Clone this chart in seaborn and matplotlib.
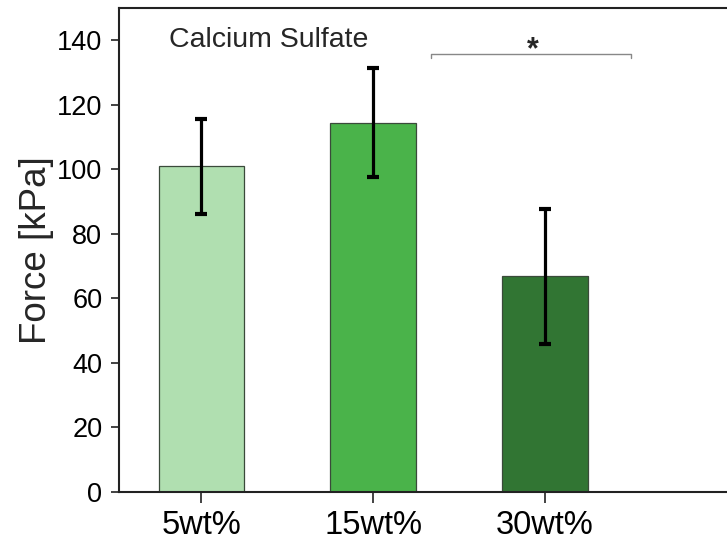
import numpy as np
import pandas as pd
import seaborn as sns
import matplotlib.pyplot as plt

# data
groups = ["5wt%", "15wt%", "30wt%"]
force = [100.9, 114.5, 66.8]
force_err = [14.8, 16.9, 21.0]
bar_colors = ["#b0dfb0", "#4ab34a", "#317533"]

sns.set_style("ticks")
plt.rcParams['font.family'] = ['Liberation Sans', 'DejaVu Sans']

fig = plt.figure(figsize=(7.27, 5.44), dpi=100)
ax = fig.add_axes([119 / 727, (544 - 492) / 544, 1.0 - 119 / 727, (492 - 8) / 544])

df = pd.DataFrame({"group": groups, "force": force})
sns.barplot(data=df, x="group", y="force", hue="group", palette=bar_colors,
            saturation=1, width=0.5, edgecolor="#3a4a3a", linewidth=0.9,
            legend=False, ax=ax)
ax.errorbar(np.arange(len(groups)), force, yerr=force_err, fmt="none",
            ecolor="black", elinewidth=2.3, capsize=4.3, capthick=3, zorder=5)

ax.set_xlim(-0.48, 3.06)
ax.set_ylim(0, 150)
ax.set_yticks(np.arange(0, 141, 20))
ax.tick_params(axis="y", labelsize=19.5, length=6, width=1.2, pad=6, colors="#222222")
ax.tick_params(axis="x", labelsize=23.5, length=8, width=1.2, pad=5, colors="#222222")
for lab in ax.get_xticklabels() + ax.get_yticklabels():
    lab.set_color("black")
ax.set_xlabel("")
ax.set_ylabel("Force [kPa]", fontsize=26.5, labelpad=2)

for side in ["left", "bottom", "top"]:
    ax.spines[side].set_linewidth(1.5)
    ax.spines[side].set_color("#222222")
ax.spines["right"].set_visible(False)

ax.text(-0.19, 140, "Calcium Sulfate", fontsize=20.5, va="center", ha="left")

# significance bracket
bx0, bx1, by = 1.336, 2.5, 135.8
ax.plot([bx0, bx0, bx1, bx1], [by - 1.4, by, by, by - 1.4], color="#888888", lw=1.0)
ax.text(1.93, 137.0, "*", fontsize=22, fontweight="bold", ha="center", va="center")

fig.savefig("out.png", dpi=100)
